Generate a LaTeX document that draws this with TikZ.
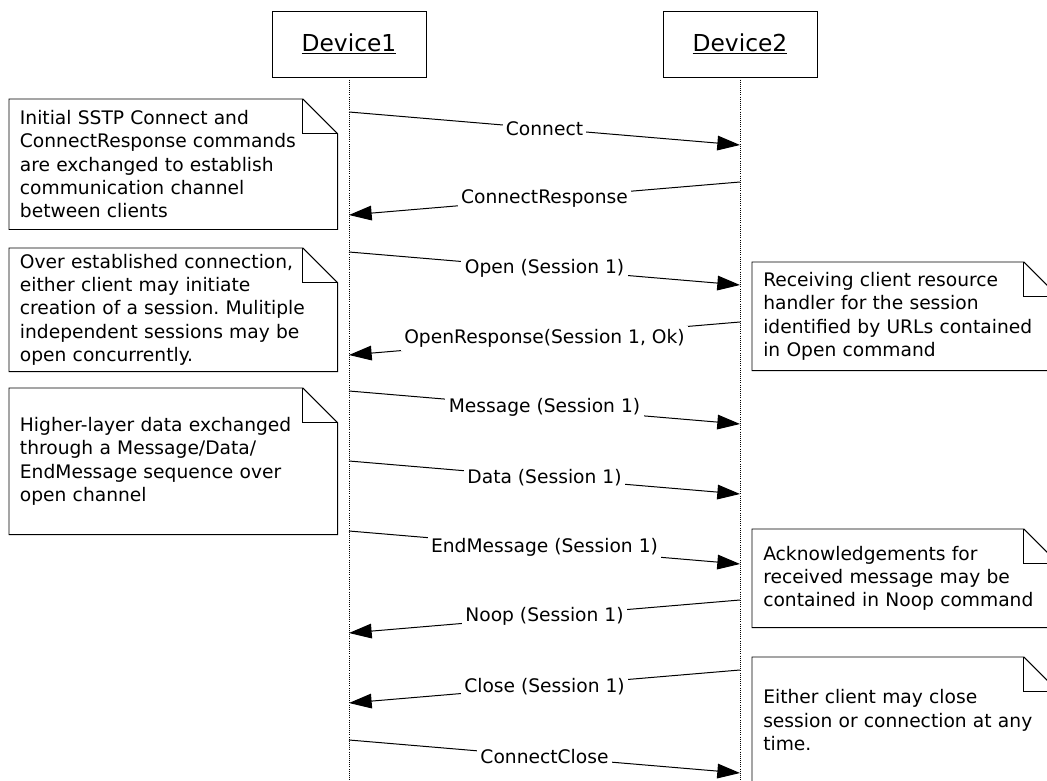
\documentclass[tikz,border=0pt]{standalone}
\usepackage{fontspec}
\setmainfont{DejaVu Sans}
\usetikzlibrary{arrows.meta}
\frenchspacing

\tikzset{
  txt/.style={font=\fontsize{14pt}{17.5pt}\selectfont},
  device/.style={draw, line width=0.6pt, minimum width=115.5pt, minimum height=49.5pt, font=\fontsize{17.5pt}{20pt}\selectfont},
  lifeline/.style={densely dotted, line width=0.6pt},
  msg/.style={-{Triangle[length=17pt,width=11pt]}, line width=0.75pt},
  lbl/.style={midway, fill=white, inner sep=2.5pt, txt},
  note/.style={anchor=north west, inner xsep=8pt, inner ysep=0pt, align=left, txt},
  notebox/.style={line width=0.7pt}
}
\newcommand{\dogear}[1]{%
  \draw[notebox] (#1.north west) -- ([xshift=-26pt]#1.north east) -- ([yshift=-26pt]#1.north east)
    -- (#1.south east) -- (#1.south west) -- cycle;
  \draw[notebox] ([xshift=-26pt]#1.north east) |- ([yshift=-26pt]#1.north east);
}

\begin{document}
\begin{tikzpicture}[x=0.75pt, y=-0.75pt]
  \useasboundingbox (0,0) rectangle (1047,781);
  \fill[white] (0,0) rectangle (1047,781);
  \clip (0,0) rectangle (1047,781);

  % devices and lifelines
  \node[device] (dev1) at (349,44) {\underline{Device1}};
  \node[device] (dev2) at (740,44) {\underline{Device2}};
  \coordinate (d1end) at (349,785);
  \coordinate (d2end) at (740,785);
  \draw[lifeline] (dev1.south) -- (d1end);
  \draw[lifeline] (dev2.south) -- (d2end);

  % message ends
  \coordinate (d1connect) at (349,112);   \coordinate (d2connect) at (740,145);
  \coordinate (d2conresp) at (740,182);   \coordinate (d1conresp) at (349,215);
  \coordinate (d1open) at (349,252);      \coordinate (d2open) at (740,285);
  \coordinate (d2openresp) at (740,322);  \coordinate (d1openresp) at (349,355);
  \coordinate (d1message) at (349,391);   \coordinate (d2message) at (740,424);
  \coordinate (d1data) at (349,461);      \coordinate (d2data) at (740,494);
  \coordinate (d1endmsg) at (349,531);    \coordinate (d2endmsg) at (740,564);
  \coordinate (d2noop) at (740,600);      \coordinate (d1noop) at (349,633);
  \coordinate (d2close) at (740,670);     \coordinate (d1close) at (349,703);
  \coordinate (d1conclose) at (349,740);  \coordinate (d2conclose) at (740,773);

  % messages
  \draw[msg] (d1connect) -- (d2connect) node[lbl]{Connect};
  \draw[msg] (d2conresp) -- (d1conresp) node[lbl]{ConnectResponse};
  \draw[msg] (d1open) -- (d2open) node[lbl]{Open (Session 1)};
  \draw[msg] (d2openresp) -- (d1openresp) node[lbl]{OpenResponse(Session 1, Ok)};
  \draw[msg] (d1message) -- (d2message) node[lbl]{Message (Session 1)};
  \draw[msg] (d1data) -- (d2data) node[lbl]{Data (Session 1)};
  \draw[msg] (d1endmsg) -- (d2endmsg) node[lbl]{EndMessage (Session 1)};
  \draw[msg] (d2noop) -- (d1noop) node[lbl]{Noop (Session 1)};
  \draw[msg] (d2close) -- (d1close) node[lbl]{Close (Session 1)};
  \draw[msg] (d1conclose) -- (d2conclose) node[lbl]{ConnectClose};

  % notes
  \node[note, minimum width=246pt, minimum height=97.5pt, text width=230pt] (note1) at (9,99)
    {Initial SSTP Connect and\\ConnectResponse commands\\are exchanged to establish\\communication channel\\between clients};
  \node[note, minimum width=246pt, minimum height=92.25pt, text width=230pt] (note2) at (9,248)
    {Over established connection,\\either client may initiate\\creation of a session. Mulitiple\\independent sessions may be\\open concurrently.};
  \node[note, minimum width=246pt, minimum height=109.5pt, text width=230pt] (note3) at (9,388)
    {Higher-layer data exchanged\\through a Message/Data/\\EndMessage sequence over\\open channel};
  \node[note, minimum width=229.5pt, minimum height=81pt, text width=213pt] (note4) at (752,262)
    {Receiving client resource\\handler for the session\\identified by URLs contained\\in Open command};
  \node[note, minimum width=229.5pt, minimum height=73.5pt, text width=213pt] (note5) at (752,529)
    {Acknowledgements for\\received message may be\\contained in Noop command};
  \node[note, minimum width=229.5pt, minimum height=94.5pt, text width=213pt] (note6) at (752,657)
    {Either client may close\\session or connection at any\\time.};
  \dogear{note1}
  \dogear{note2}
  \dogear{note3}
  \dogear{note4}
  \dogear{note5}
  \dogear{note6}
\end{tikzpicture}
\end{document}
